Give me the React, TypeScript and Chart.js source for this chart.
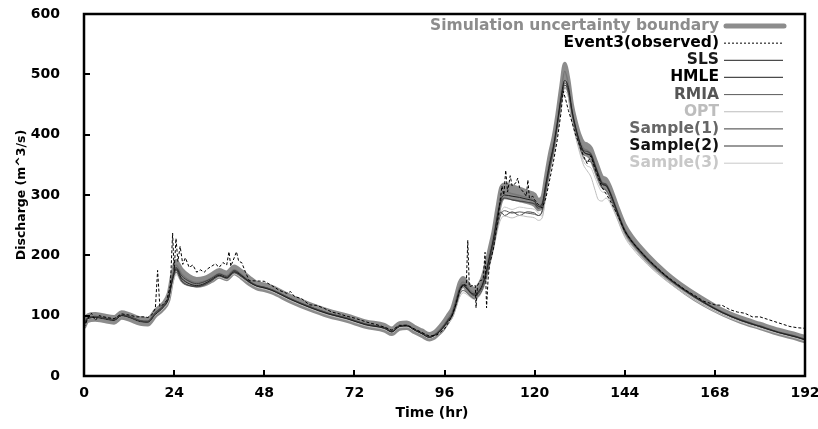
import React, { useEffect, useRef } from 'react';
import { Chart, registerables } from 'chart.js';

Chart.register(...registerables);

// ---------- data ----------
const timeHours = [0,1,3,5,8,10,12,15,17,19,21,22.5,23.5,24.5,26,28,30,32,34,36,38,40,42,44,46,48,50,55,60,65,70,75,80,82,84,86,88,90,92,93,94,95.5,97,98,99,100,101,102,103,104,105,106,107,108,109,110,111,112,114,116,118,120,121,122,123,124,125,126,127,128,129,130,131,132,133,134,135,136,137,138,139,140,142,144,146,150,155,160,165,170,175,180,185,190,192];

const boundUpper = [90,101,103,101,98,106,103,96,95,109,120,137,170,191,177,166,161,163,169,176,172,182,174,164,155,152,148,133,120,109,101,91,85,79,88,89,82,76,70,72,77,88,102,112,133,155,163,156,148,145,150,162,184,212,240,278,312,318,315,311,306,301,292,296,332,368,396,434,479,518,494,450,422,400,387,384,378,362,345,330,327,316,282,251,231,202,172,148,128,110,97,87,77,69,65];

const boundLower = [80,91,93,91,88,96,93,86,85,99,110,125,158,179,163,154,149,151,157,164,160,170,162,152,145,142,138,123,110,99,91,81,75,69,78,79,72,66,60,62,67,76,90,100,119,141,149,142,134,131,136,148,168,196,222,258,288,296,294,291,288,283,276,280,314,348,376,414,459,502,476,432,404,382,369,366,360,344,327,314,311,300,268,237,219,190,162,138,118,102,89,79,69,61,57];

const slsFlow = [84,95,97,95,92,100,97,90,89,102,113,128,158,178,162,153,150,153,160,167,163,173,166,156,149,146,142,127,114,103,95,85,79,73,82,83,76,70,64,66,70,79,92,100,118,140,150,145,138,136,140,150,170,198,226,262,292,300,298,296,293,289,281,285,318,352,380,418,460,490,478,438,410,388,372,368,366,350,333,318,316,305,272,241,222,194,165,142,122,105,92,82,72,64,60];

const hmleFlow = [86,97,99,97,94,101,99,92,91,105,116,130,160,176,158,150,148,151,158,166,162,172,165,156,150,147,143,128,115,104,96,86,80,74,83,84,77,71,65,67,71,80,93,102,122,144,152,146,138,134,138,148,168,196,224,260,288,295,292,290,288,285,278,282,316,350,378,415,455,482,472,436,408,386,374,372,368,351,334,320,318,306,273,242,223,195,166,143,123,106,93,83,73,65,61];

const rmiaFlow = [85,95,97,96,93,100,98,91,90,103,114,128,156,172,156,150,149,152,159,166,162,171,164,155,149,146,142,127,114,103,95,85,79,73,82,83,76,70,64,66,70,78,90,98,115,135,142,138,132,128,132,142,160,186,212,245,268,274,270,272,270,268,266,272,305,340,370,410,452,478,468,432,404,380,362,356,355,342,326,312,308,298,268,238,220,192,164,141,121,105,92,82,72,64,60];

const optFlow = [84,94,96,95,92,99,97,90,89,101,111,124,150,168,155,149,148,151,157,164,160,169,162,154,147,144,140,125,112,101,93,83,77,72,80,81,75,69,63,65,68,76,88,96,112,130,138,135,130,127,130,140,156,182,208,238,260,265,262,266,264,262,258,262,298,335,365,405,448,472,462,425,395,370,350,340,330,310,292,290,295,288,260,230,212,185,158,136,117,101,89,79,70,62,58];

const sample1Flow = [86,96,98,96,93,100,98,91,90,104,115,130,162,180,166,157,153,156,162,169,165,175,167,157,150,147,143,128,115,104,96,86,80,74,83,84,77,71,65,67,71,81,94,103,122,143,150,144,137,133,137,147,166,192,220,252,272,266,272,266,272,270,266,274,310,345,375,414,458,486,474,436,408,386,372,368,364,348,332,318,315,304,272,241,222,194,165,142,122,105,92,82,72,64,60];

const sample2Flow = [85,96,98,96,93,101,98,91,90,104,115,131,164,184,169,159,155,157,163,170,166,176,168,158,150,147,143,128,115,104,96,86,80,74,83,84,77,71,65,67,72,82,96,106,126,148,156,149,141,138,143,155,176,204,231,268,298,305,302,299,296,291,283,287,322,357,385,423,467,505,483,440,412,390,377,374,368,352,335,321,318,307,274,243,224,195,166,142,122,105,92,82,72,64,60];

const sample3Flow = [85,95,97,95,92,100,97,90,89,102,112,126,154,170,158,151,149,152,158,165,161,170,163,155,148,145,141,126,113,102,94,84,78,72,81,82,75,69,63,65,69,77,89,97,114,134,141,137,131,128,131,141,158,184,210,242,270,280,276,280,278,276,270,265,300,338,368,408,450,476,466,428,398,374,356,348,345,330,315,305,304,294,263,233,215,187,160,138,119,103,90,80,71,63,59];

const obsTime = [0,1,2,3,4,6,8,10,12,14,16,17,18,19,19.6,20.2,21,22,23,23.6,24,24.5,25,25.6,26.3,27,28,29,30,31,32,33,34,35,36,37,38,38.6,39.1,40,40.6,41.2,42,43,44,48,50,52,54,55,56,58,60,62,64,66,68,70,72,74,76,78,80,82,84,86,88,90,92,94,96,97,98,99,100,101,101.8,102.2,102.6,103.5,104.2,104.4,104.8,105.5,106.3,106.8,107.2,107.6,108,109,110,110.8,111.3,111.8,112.3,112.8,113.5,114,115,115.5,116,117,117.8,118.2,118.6,119.5,120,121,122,123,124,125,126,127,127.6,128.2,129,130,131,132,133,134,135,136,137,138,139,140,142,144,146,150,155,160,163,165,168,170,172,174,176,178,180,182,184,186,188,190,192];

const obsFlow = [80,95,104,92,100,97,95,103,101,98,98,97,101,112,175,115,118,125,150,237,175,228,190,215,185,196,180,184,172,176,172,178,182,186,180,188,184,206,182,196,206,190,188,172,158,157,150,142,137,140,132,128,118,117,112,106,103,99,96,92,88,85,81,76,84,84,78,72,66,68,78,88,100,118,142,152,150,225,148,150,150,113,150,158,160,205,113,160,185,210,250,290,315,300,341,305,332,315,320,328,312,305,298,325,295,298,292,284,278,295,325,355,390,435,472,460,440,420,398,382,365,352,365,345,328,312,302,292,268,240,222,194,166,143,132,124,118,117,110,106,104,98,98,94,90,86,82,80,79];

const xTickValues = [0, 24, 48, 72, 96, 120, 144, 168, 192];
const yTickValues = [0, 100, 200, 300, 400, 500, 600];

const seriesNames = ['Simulation uncertainty boundary', 'Event3(observed)', 'SLS', 'HMLE', 'RMIA', 'OPT', 'Sample(1)', 'Sample(2)', 'Sample(3)'];
const xTitle = 'Time (hr)';
const yTitle = 'Discharge (m^3/s)';

// ---------- styles ----------
const FONT = '"DejaVu Sans", "Liberation Sans", Arial, sans-serif';
const legendStyles = [
  { text: '#8c8c8c', line: '#8c8c8c', width: 5, dash: [] as number[], cap: 'round' },
  { text: '#000000', line: '#000000', width: 1, dash: [2, 2], cap: 'butt' },
  { text: '#1a1a1a', line: '#1e1e1e', width: 1, dash: [], cap: 'butt' },
  { text: '#000000', line: '#4a4a4a', width: 1.3, dash: [], cap: 'butt' },
  { text: '#555555', line: '#5a5a5a', width: 1, dash: [], cap: 'butt' },
  { text: '#bdbdbd', line: '#bdbdbd', width: 1, dash: [], cap: 'butt' },
  { text: '#666666', line: '#3c3c3c', width: 1, dash: [], cap: 'butt' },
  { text: '#111111', line: '#777777', width: 1.5, dash: [], cap: 'butt' },
  { text: '#c8c8c8', line: '#c8c8c8', width: 1, dash: [], cap: 'butt' },
];

const toPoints = (xs: number[], ys: number[]) => xs.map((x, i) => ({ x, y: ys[i] }));

const decorPlugin = {
  id: 'decor',
  afterDraw(chart: any) {
    const { ctx, chartArea: a, scales } = chart;
    const xs = scales.x;
    const ys = scales.y;
    ctx.save();
    // inward tick marks
    ctx.strokeStyle = '#000';
    ctx.lineWidth = 2;
    ctx.setLineDash([]);
    yTickValues.forEach((v) => {
      const py = Math.round(ys.getPixelForValue(v));
      ctx.beginPath();
      ctx.moveTo(a.left, py);
      ctx.lineTo(a.left + 6, py);
      ctx.stroke();
    });
    xTickValues.forEach((v) => {
      const px = Math.round(xs.getPixelForValue(v));
      ctx.beginPath();
      ctx.moveTo(px, a.bottom);
      ctx.lineTo(px, a.bottom - 6);
      ctx.stroke();
    });
    // frame
    ctx.lineWidth = 2.5;
    ctx.strokeRect(a.left, a.top, a.right - a.left, a.bottom - a.top);

    // x title
    ctx.fillStyle = '#000';
    ctx.font = `bold 14px ${FONT}`;
    ctx.textAlign = 'center';
    ctx.textBaseline = 'middle';
    ctx.fillText(xTitle, 432, 413);

    // legend
    ctx.font = `bold 15.5px ${FONT}`;
    ctx.textAlign = 'right';
    seriesNames.forEach((name, i) => {
      const st = legendStyles[i];
      const y = 26 + i * 17.15;
      ctx.fillStyle = st.text;
      ctx.fillText(name, 719, y);
      ctx.beginPath();
      ctx.strokeStyle = st.line;
      ctx.lineWidth = st.width;
      ctx.lineCap = st.cap;
      ctx.setLineDash(st.dash);
      ctx.moveTo(i === 0 ? 726 : 724, y);
      ctx.lineTo(i === 0 ? 784 : 783, y);
      ctx.stroke();
    });
    ctx.restore();
  },
};

export default function App() {
  const ref = useRef<HTMLCanvasElement | null>(null);

  useEffect(() => {
    if (!ref.current) return;
    const modelLine = (data: number[], color: string, width: number) => ({
      data: toPoints(timeHours, data),
      borderColor: color,
      borderWidth: width,
      pointRadius: 0,
      fill: false,
      cubicInterpolationMode: 'monotone' as const,
    });
    const chart = new Chart(ref.current, {
      type: 'line',
      data: {
        datasets: [
          {
            label: seriesNames[1],
            data: toPoints(obsTime, obsFlow),
            borderColor: '#000',
            borderWidth: 1,
            borderDash: [3, 2],
            pointRadius: 0,
            fill: false,
            tension: 0,
          },
          { label: seriesNames[2], ...modelLine(slsFlow, '#1e1e1e', 1) },
          { label: seriesNames[3], ...modelLine(hmleFlow, '#4a4a4a', 1.2) },
          { label: seriesNames[4], ...modelLine(rmiaFlow, '#5a5a5a', 1) },
          { label: seriesNames[5], ...modelLine(optFlow, '#bdbdbd', 1) },
          { label: seriesNames[6], ...modelLine(sample1Flow, '#3c3c3c', 1) },
          { label: seriesNames[7], ...modelLine(sample2Flow, '#777777', 1.5) },
          { label: seriesNames[8], ...modelLine(sample3Flow, '#c8c8c8', 1) },
          {
            label: seriesNames[0] + ' (upper)',
            data: toPoints(timeHours, boundUpper),
            borderColor: '#8c8c8c',
            borderWidth: 3.5,
            pointRadius: 0,
            fill: false,
            cubicInterpolationMode: 'monotone' as const,
          },
          {
            label: seriesNames[0] + ' (lower)',
            data: toPoints(timeHours, boundLower),
            borderColor: '#8c8c8c',
            backgroundColor: '#8c8c8c',
            borderWidth: 3.5,
            pointRadius: 0,
            fill: '-1',
            cubicInterpolationMode: 'monotone' as const,
          },
        ],
      },
      options: {
        animation: false,
        responsive: false,
        maintainAspectRatio: false,
        layout: { padding: { top: 14, right: 13, left: 0, bottom: 0 } },
        plugins: { legend: { display: false }, tooltip: { enabled: false } },
        scales: {
          x: {
            type: 'linear',
            min: 0,
            max: 192,
            afterBuildTicks: (s: any) => {
              s.ticks = xTickValues.map((v) => ({ value: v }));
            },
            afterFit: (s: any) => {
              s.height = 53;
              s.paddingLeft = 0;
              s.paddingRight = 0;
            },
            grid: { display: false },
            border: { display: false },
            ticks: {
              autoSkip: false,
              maxRotation: 0,
              padding: 1,
              color: '#000',
              font: { family: FONT, size: 14, weight: 'bold' },
            },
          },
          y: {
            type: 'linear',
            min: 0,
            max: 600,
            afterBuildTicks: (s: any) => {
              s.ticks = yTickValues.map((v) => ({ value: v }));
            },
            afterFit: (s: any) => {
              s.width = 84;
              s.paddingTop = 0;
              s.paddingBottom = 0;
            },
            grid: { display: false },
            border: { display: false },
            ticks: {
              padding: 16,
              color: '#000',
              font: { family: FONT, size: 14, weight: 'bold' },
            },
            title: {
              display: true,
              text: yTitle,
              color: '#000',
              font: { family: FONT, size: 12.5, weight: 'bold' },
              padding: { top: 14.5, bottom: 0 },
            },
          },
        },
      },
      plugins: [decorPlugin],
    });
    return () => chart.destroy();
  }, []);

  return (
    <div style={{ position: 'fixed', left: 0, top: 0, width: 818, height: 429, background: '#fff' }}>
      <canvas ref={ref} width={818} height={429} style={{ display: 'block' }} />
    </div>
  );
}
